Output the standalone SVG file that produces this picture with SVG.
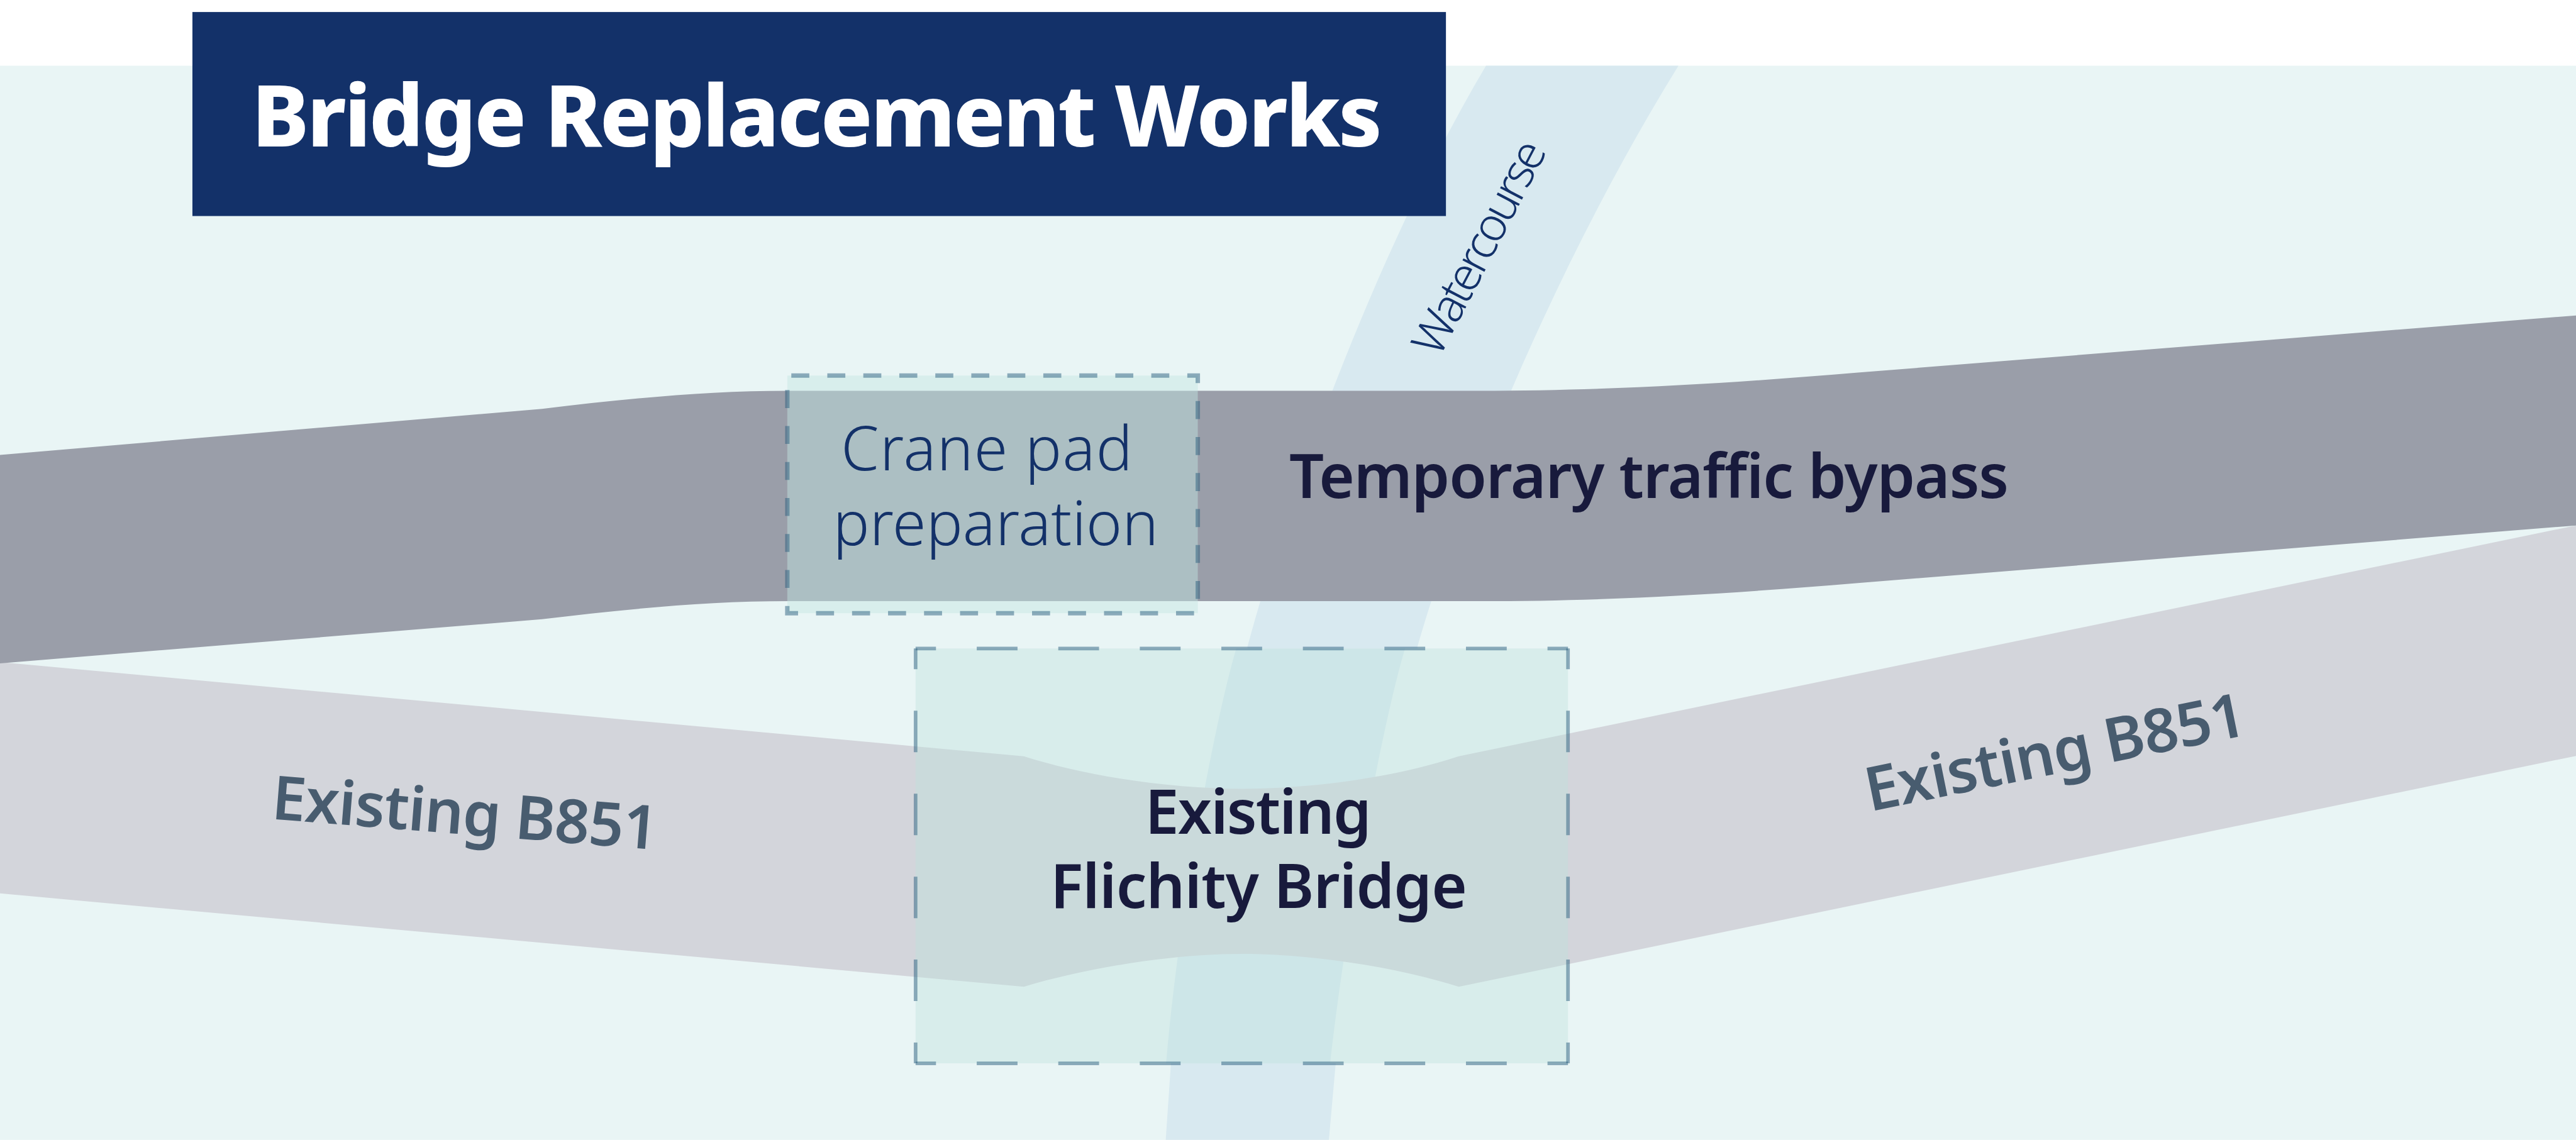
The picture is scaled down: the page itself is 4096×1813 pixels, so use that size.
<svg xmlns="http://www.w3.org/2000/svg" width="4096" height="1813" viewBox="0 0 4096 1813">
<style>
.river{fill:#d8e9f0}
.lab{font-family:"Noto Sans","Liberation Sans",sans-serif;font-variant-ligatures:none}
.b{font-size:152px;font-weight:600;fill:#181a3c}
.g{font-size:152px;font-weight:600;fill:#485c6f}
.l{font-weight:300;fill:#133169}
.d{fill:none;stroke:#2b5f80;stroke-opacity:.5}
</style>
<g transform="scale(0.63741)">
<g id="background"><rect x="0" y="164" width="6426" height="2680" fill="#e9f5f5"/></g>
<g id="watercourse">
<path class="river" d="M3707 164H4187C3880 660 3640 1250 3536 1613V1618H3112V1613C3210 1250 3430 630 3707 164Z"/>
<path class="river" d="M3084 1618H3505C3450 1800 3360 2280 3318 2653H2909C2940 2280 3030 1800 3084 1618Z"/>
<path class="river" d="M2921 2653H3332L3315 2844H2908Z"/>
<text class="lab l" font-size="116" transform="translate(3590 895) rotate(-62.5)" textLength="585" lengthAdjust="spacing">Watercourse</text>
</g>
<g id="existing-road">
<path fill="#d3d5db" d="M0 1652L2554 1887C2720 1940 2930 1968 3100 1968C3270 1968 3480 1940 3639 1887L6426 1311V1886L3639 2462C3480 2412 3270 2380 3100 2380C2930 2380 2720 2412 2554 2462L0 2229Z"/>
<text class="lab g" transform="translate(675 2043) rotate(4.6)" textLength="965" lengthAdjust="spacing">Existing B851</text>
<text class="lab g" transform="translate(4664 2025) rotate(-11.5)" textLength="965" lengthAdjust="spacing">Existing B851</text>
</g>
<g id="temporary-bypass">
<path fill="#9a9ea9" d="M0 1135L1352 1020C1560 995 1760 975 1967 975H3690C4030 975 4330 955 4630 930L6426 787V1311L4630 1455C4330 1480 4030 1500 3690 1500H1967C1760 1500 1560 1520 1352 1545L0 1655Z"/>
<text class="lab b" x="3216" y="1242" textLength="1795" lengthAdjust="spacing">Temporary traffic bypass</text>
</g>
<g id="crane-pad">
<rect x="1964" y="937" width="1024" height="593" fill="#c4e7e2" fill-opacity=".45"/>
<rect class="d" x="1964" y="937" width="1024" height="593" stroke-width="11" stroke-dasharray="44.9 44.9" stroke-dashoffset="79.8"/>
<text class="lab l" font-size="152" x="2098" y="1174" textLength="727" lengthAdjust="spacing">Crane pad</text>
<text class="lab l" font-size="152" x="2078" y="1360" textLength="812" lengthAdjust="spacing">preparation</text>
</g>
<g id="flichity-bridge">
<rect x="2284" y="1618" width="1627.5" height="1035" fill="#bde1db" fill-opacity=".4"/>
<path class="d" stroke-width="9" stroke-dasharray="101.7 101.7" stroke-dashoffset="50.85" d="M2284 1618H3911.5M2284 2653H3911.5"/>
<path class="d" stroke-width="9" stroke-dasharray="103.5 103.5" stroke-dashoffset="51.75" d="M2284 1618V2653M3911.5 1618V2653"/>
<text class="lab b" x="2856" y="2081" textLength="565" lengthAdjust="spacing">Existing</text>
<text class="lab b" x="2620" y="2266" textLength="1040" lengthAdjust="spacing">Flichity Bridge</text>
</g>
<g id="title">
<rect x="480" y="30" width="3127" height="509" fill="#133169"/>
<text class="lab" x="628" y="365" font-size="214" font-weight="800" fill="#fff" textLength="2820" lengthAdjust="spacing">Bridge Replacement Works</text>
</g>
</g>
</svg>
